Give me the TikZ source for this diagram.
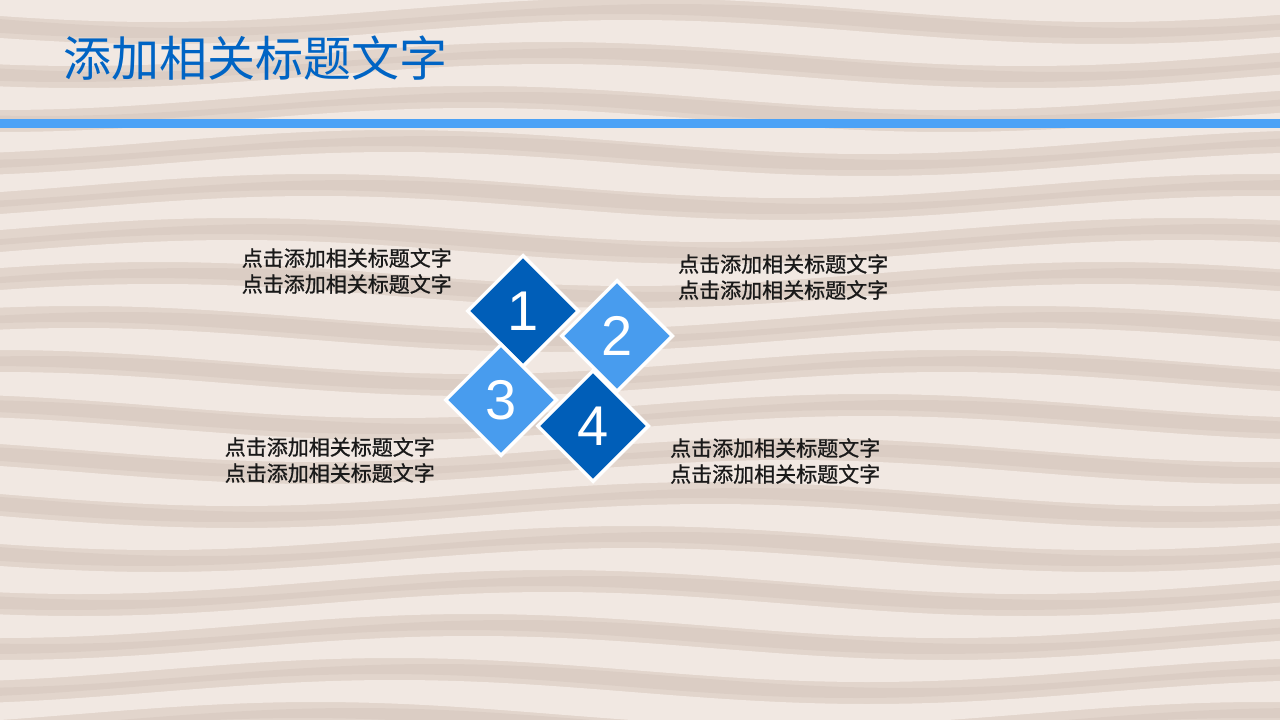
\documentclass[tikz,border=0pt]{standalone}
\usepackage{fontspec}
\setmainfont{Liberation Sans}
\newfontfamily\cjk{Noto Sans CJK SC}
\newfontfamily\cjkheavy[FakeBold=0.9]{Noto Sans CJK SC}
\usetikzlibrary{shapes.geometric,positioning}

\definecolor{sand}{RGB}{226,213,204}
\definecolor{sandlight}{RGB}{248,241,236}
\definecolor{sanddark}{RGB}{205,189,179}
\definecolor{titleblue}{RGB}{0,100,196}
\definecolor{bandblue}{RGB}{76,162,246}
\definecolor{darkblue}{RGB}{0,94,184}
\definecolor{lightblue}{RGB}{72,156,238}
\definecolor{textgray}{RGB}{25,25,25}

\begin{document}
\begin{tikzpicture}[x=1pt,y=-1pt,
    tile/.style={diamond,aspect=1,minimum width=112,minimum height=112,inner sep=0pt,draw=white,line width=3.5pt},
    num/.style={text=white,font=\fontsize{56}{56}\selectfont},
    caption/.style={text=textgray,font=\cjkheavy\fontsize{21}{26}\selectfont,inner sep=0pt}]
    \useasboundingbox (0,0) rectangle (1280,720);
    % background
    \fill[sand] (0,0) rectangle (1280,720);
    \foreach \r in {0,...,16}{
        \pgfmathsetmacro\yy{\r*44-12}
        \fill[sandlight,opacity=.7] plot[domain=0:1280,samples=50,smooth] (\x,{\yy+12*sin(0.38*\x+\r*30)})
            -- plot[domain=1280:0,samples=50,smooth] (\x,{\yy+22+12*sin(0.38*\x+\r*30+30)}) -- cycle;
        \fill[sanddark,opacity=.3] plot[domain=0:1280,samples=50,smooth] (\x,{\yy+28+12*sin(0.38*\x+\r*30+15)})
            -- plot[domain=1280:0,samples=50,smooth] (\x,{\yy+38+12*sin(0.38*\x+\r*30+35)}) -- cycle;
    }
    % title and band
    \node[anchor=west,inner sep=0pt,text=titleblue,font=\cjk\fontsize{48}{48}\selectfont] (title) at (63,58) {添加相关标题文字};
    \fill[bandblue] (0,118.5) rectangle (1280,127.5);
    % tiles
    \node[tile,fill=darkblue] (t1) at (523,311) {};
    \node[tile,fill=lightblue] (t2) at (617,336) {};
    \node[tile,fill=lightblue] (t3) at (501,400) {};
    \node[tile,fill=darkblue] (t4) at (593,426) {};
    \node[num] at (t1) {1};
    \node[num] at (t2) {2};
    \node[num] at (t3) {3};
    \node[num] at (t4) {4};
    % captions
    \node[caption,anchor=east,align=right] (c1) at (452,271) {点击添加相关标题文字\\点击添加相关标题文字};
    \node[caption,anchor=west,align=left] (c2) at (678,277) {点击添加相关标题文字\\点击添加相关标题文字};
    \node[caption,anchor=east,align=right] (c3) at (435,460) {点击添加相关标题文字\\点击添加相关标题文字};
    \node[caption,anchor=west,align=left] (c4) at (670,461) {点击添加相关标题文字\\点击添加相关标题文字};
\end{tikzpicture}
\end{document}
